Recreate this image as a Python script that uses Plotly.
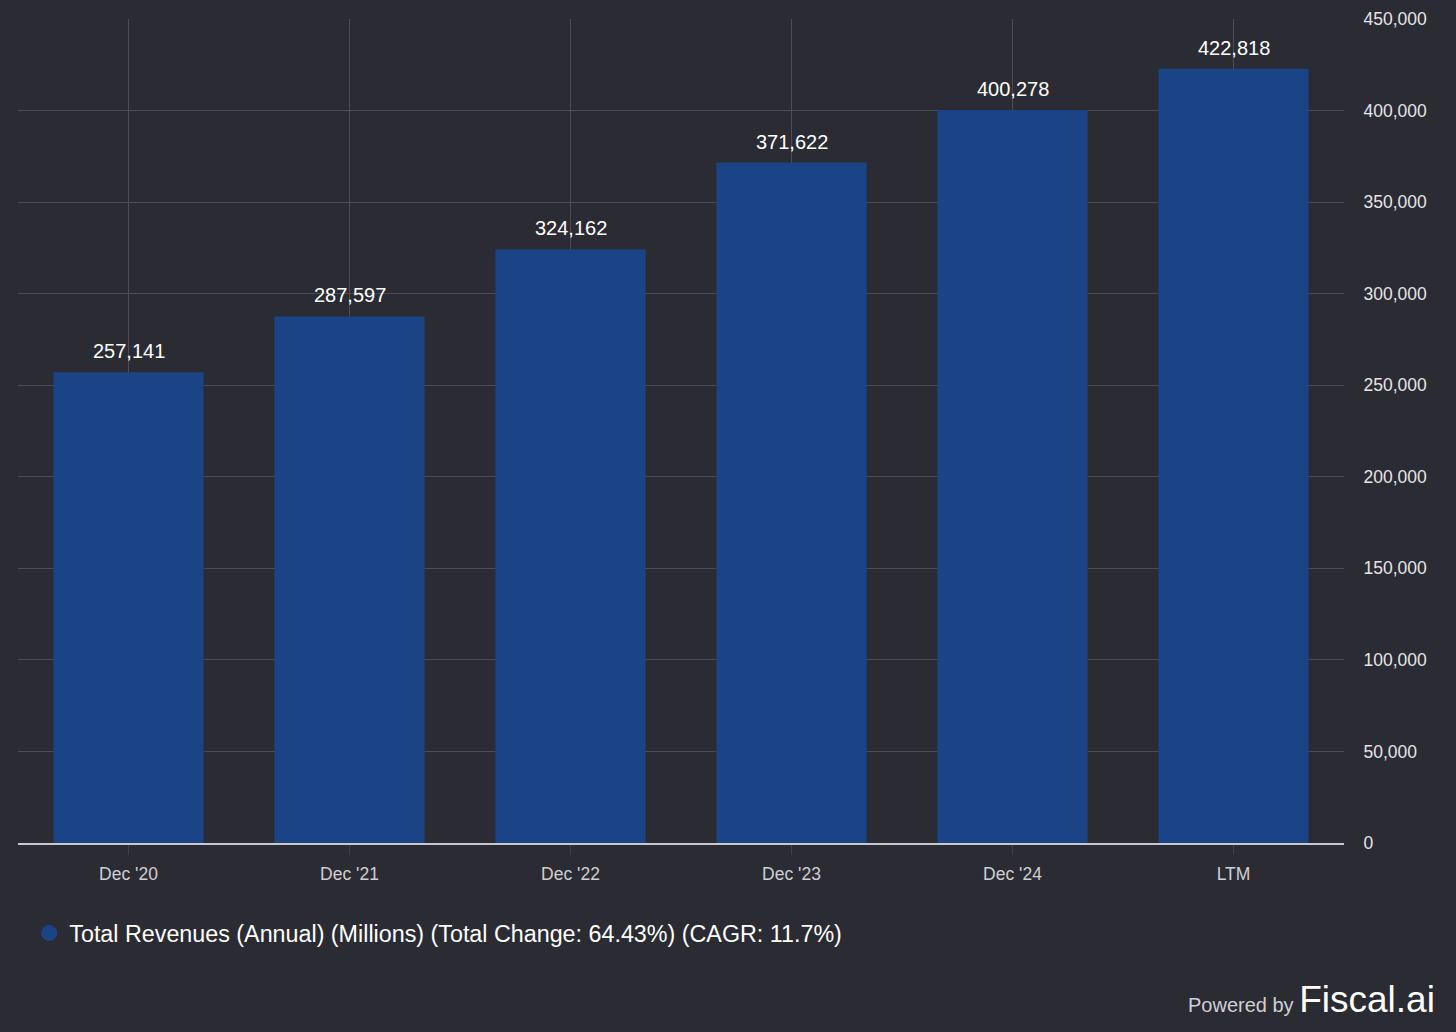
import plotly.graph_objects as go

categories = ["Dec '20", "Dec '21", "Dec '22", "Dec '23", "Dec '24", "LTM"]
revenues = [257141, 287597, 324162, 371622, 400278, 422818]
y_ticks = [0, 50000, 100000, 150000, 200000, 250000, 300000, 350000, 400000, 450000]
legend_name = "Total Revenues (Annual) (Millions) (Total Change: 64.43%) (CAGR: 11.7%)"

BG = "#2b2b33"
BAR = "#1b4486"
GRID = "#4c4c56"
FONT = "Liberation Sans, Arial, Helvetica, sans-serif"

fig = go.Figure()
fig.add_trace(go.Bar(
    x=categories, y=revenues,
    marker=dict(color=BAR, line=dict(width=0)),
    showlegend=False,
    hoverinfo="x+y",
))
fig.add_trace(go.Scatter(
    x=[None], y=[None], mode="markers", name=legend_name,
    marker=dict(symbol="circle", size=22, color=BAR),
    showlegend=True,
))

annotations = [
    dict(x=c, y=v, xref="x", yref="y", text=f"{v:,}", showarrow=False,
         yanchor="bottom", yshift=8,
         font=dict(color="#ffffff", size=20, family=FONT))
    for c, v in zip(categories, revenues)
]
annotations.append(dict(
    xref="paper", yref="paper", x=1.0705, y=-0.1905,
    xanchor="right", yanchor="middle", showarrow=False,
    text="<span style='font-size:20px;color:#cfcfd4'>Powered by </span>"
         "<span style='font-size:37px;color:#ffffff'>Fiscal.ai</span>",
    font=dict(family=FONT),
))

fig.update_layout(
    width=1456, height=1032,
    paper_bgcolor=BG, plot_bgcolor=BG,
    margin=dict(l=18, r=112, t=19, b=189, autoexpand=False),
    bargap=0.32,
    font=dict(family=FONT, color="#d0d0d4"),
    xaxis=dict(
        type="category",
        automargin=False,
        showgrid=True, gridcolor=GRID, gridwidth=1,
        showline=True, linecolor="#c8c8cc", linewidth=2,
        ticks="outside", ticklen=10, tickcolor="#3e3e48",
        ticklabelstandoff=4,
        tickfont=dict(size=17.5, color="#cfcfd4", family=FONT),
        fixedrange=True,
    ),
    yaxis=dict(
        side="right",
        automargin=False,
        range=[0, 450000],
        tickvals=y_ticks,
        ticktext=[f"{v:,}" for v in y_ticks],
        showgrid=True, gridcolor=GRID, gridwidth=1,
        zeroline=False,
        ticks="outside", ticklen=15, tickcolor=BG,
        tickfont=dict(size=17.5, color="#e4e4e8", family=FONT),
        fixedrange=True,
    ),
    legend=dict(
        orientation="h", x=0.0085, y=-0.083, xanchor="left", yanchor="top",
        font=dict(size=23.3, color="#ffffff", family=FONT),
        bgcolor="rgba(0,0,0,0)", itemsizing="trace",
    ),
    annotations=annotations,
)

fig.write_html(
    "out.html",
    config={"displayModeBar": False},
    post_script="document.body.style.margin='0';document.body.style.background='%s';" % BG,
)
